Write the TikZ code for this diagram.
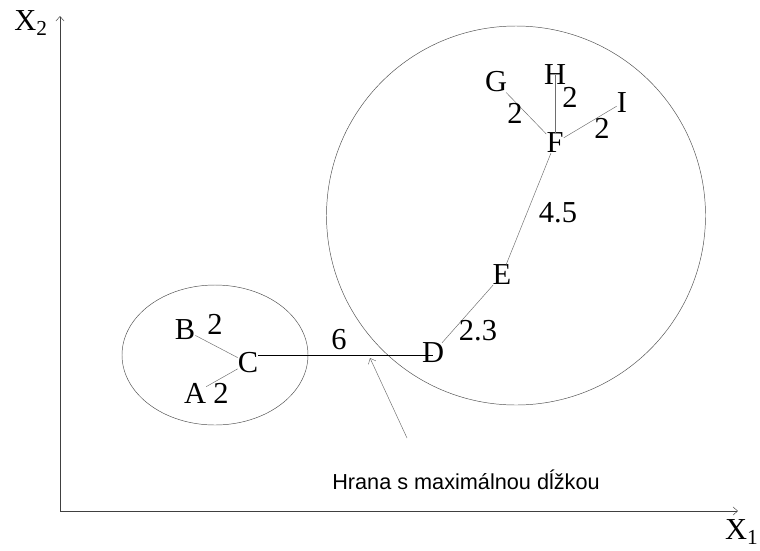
\documentclass[tikz,border=0pt]{standalone}
\usepackage{fontspec}
\setmainfont{Liberation Serif}
\newfontfamily\labelfont{Liberation Sans}
\usepackage{tikz}
\usetikzlibrary{arrows.meta}
\definecolor{edgegrey}{HTML}{6E6E6E}
\definecolor{ringgrey}{HTML}{505050}

\begin{document}
\begin{tikzpicture}[x=0.03cm, y=-0.03cm,
    >={Straight Barb[length=4pt, width=7pt]},
    pt/.style={inner sep=0pt, font=\fontsize{26}{26}\selectfont},
    wt/.style={inner sep=0pt, font=\fontsize{26}{26}\selectfont},
    edge/.style={edgegrey, thin}]
      \useasboundingbox (0,0) rectangle (760,550);
      % axes
      \coordinate (o) at (60,511);
      \coordinate (ytop) at (60,16);
      \coordinate (xend) at (738,511);
      \draw[->, thin, black!75] (o) -- (ytop);
      \draw[->, thin, black!75] (o) -- (xend);
      \node[pt] (x2) at (31,23) {X\textsubscript{2}};
      \node[pt, anchor=west] (x1) at (725,532) {X\textsubscript{1}};
      % clusters
      \draw[ringgrey, thin] (215,355) ellipse (93 and 70);
      \draw[ringgrey, thin] (516,215.5) circle (189.5);
      % points
      \node[pt] (B) at (185,330) {B};
      \node[pt] (C) at (248,363) {C};
      \node[pt] (A) at (195,393) {A};
      \node[pt] (D) at (433,353) {D};
      \node[pt] (E) at (502,275) {E};
      \node[pt] (F) at (555,143) {F};
      \node[pt] (G) at (496,82) {G};
      \node[pt] (H) at (555,75) {H};
      \node[pt] (I) at (622,103) {I};
      % spanning tree
      \draw[edge] (B) -- (C);
      \draw[edge] (A) -- (C);
      \draw[thin] (C.east) ++(0,-8) coordinate (cd) -- (cd -| D.center);
      \draw[edge] (D) -- (E);
      \draw[edge] (E) -- (F);
      \draw[edge] (G) -- (F);
      \draw[edge] (H.center) -- (F);
      \draw[edge] (I) -- (F);
      % weights
      \node[wt] (wBC) at (215,324) {2};
      \node[wt] (wAC) at (221,393) {2};
      \node[wt] (wCD) at (339,340) {6};
      \node[wt] (wDE) at (478,331) {2.3};
      \node[wt] (wEF) at (558,213) {4.5};
      \node[wt] (wGF) at (515,113) {2};
      \node[wt] (wHF) at (570,97) {2};
      \node[wt] (wIF) at (602,128) {2};
      % annotation
      \node[inner sep=0pt, font=\labelfont\fontsize{18.5}{18.5}\selectfont]
        (note) at (466,480) {Hrana s maximálnou dĺžkou};
      \coordinate (tail) at (407,438);
      \coordinate (tip) at (370,358);
      \draw[->, edgegrey, thin] (tail) -- (tip);
    \end{tikzpicture}
\end{document}
